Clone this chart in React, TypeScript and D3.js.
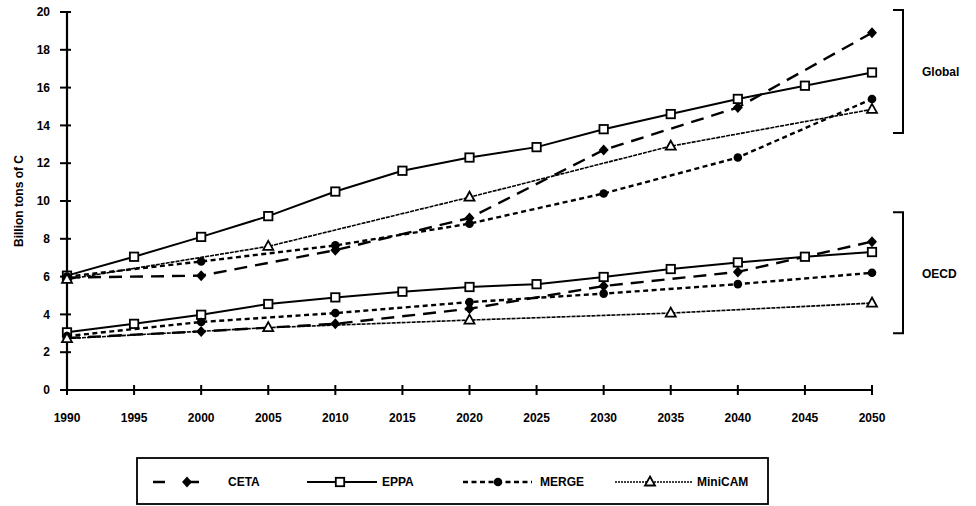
import React from "react";
import * as d3 from "d3";

// ---- data ----
const cetaYears = [1990, 2000, 2010, 2020, 2030, 2040, 2050];
const cetaGlobal = [5.95, 6.05, 7.4, 9.1, 12.7, 14.95, 18.9];
const cetaOECD = [2.75, 3.1, 3.5, 4.3, 5.5, 6.25, 7.85];

const eppaYears = [1990, 1995, 2000, 2005, 2010, 2015, 2020, 2025, 2030, 2035, 2040, 2045, 2050];
const eppaGlobal = [6.05, 7.05, 8.1, 9.2, 10.5, 11.6, 12.3, 12.85, 13.8, 14.6, 15.4, 16.1, 16.8];
const eppaOECD = [3.05, 3.5, 3.98, 4.55, 4.9, 5.2, 5.45, 5.6, 5.98, 6.4, 6.75, 7.05, 7.3];

const mergeYears = [1990, 2000, 2010, 2020, 2030, 2040, 2050];
const mergeGlobal = [6.0, 6.8, 7.65, 8.8, 10.4, 12.3, 15.4];
const mergeOECD = [2.85, 3.6, 4.07, 4.65, 5.1, 5.6, 6.2];

const minicamYears = [1990, 2005, 2020, 2035, 2050];
const minicamGlobal = [5.85, 7.6, 10.2, 12.9, 14.85];
const minicamOECD = [2.72, 3.3, 3.7, 4.07, 4.6];

const xTicks = [1990, 1995, 2000, 2005, 2010, 2015, 2020, 2025, 2030, 2035, 2040, 2045, 2050];
const yTicks = [0, 2, 4, 6, 8, 10, 12, 14, 16, 18, 20];
const seriesNames = ["CETA", "EPPA", "MERGE", "MiniCAM"];
const yLabel = "Billion tons of C";
const regionLabels = ["Global", "OECD"];

const FONT = "Liberation Sans, Arial, sans-serif";

type Kind = "diamond" | "square" | "circle" | "triangle";

const styles: Record<string, { dash: string; width: number; marker: Kind }> = {
  CETA: { dash: "13,8", width: 2.4, marker: "diamond" },
  EPPA: { dash: "", width: 2, marker: "square" },
  MERGE: { dash: "5,3.5", width: 2.4, marker: "circle" },
  MiniCAM: { dash: "4,1", width: 1.6, marker: "triangle" },
};

function Marker({ kind, x, y }: { kind: Kind; x: number; y: number }) {
  if (kind === "diamond")
    return <path d={`M${x},${y - 5.5}L${x + 5},${y}L${x},${y + 5.5}L${x - 5},${y}Z`} fill="#000" />;
  if (kind === "square")
    return <rect x={x - 4.2} y={y - 4.2} width={8.4} height={8.4} fill="#fff" stroke="#000" strokeWidth={1.8} />;
  if (kind === "circle") return <circle cx={x} cy={y} r={4.3} fill="#000" />;
  return (
    <path d={`M${x},${y - 5.5}L${x + 5},${y + 3.5}L${x - 5},${y + 3.5}Z`} fill="#fff" stroke="#000" strokeWidth={1.8} />
  );
}

export default function App() {
  const x = d3.scaleLinear().domain([1990, 2050]).range([67, 872]);
  const y = d3.scaleLinear().domain([0, 20]).range([390, 12]);

  const series = [
    { name: "CETA", years: cetaYears, vals: [cetaGlobal, cetaOECD] },
    { name: "EPPA", years: eppaYears, vals: [eppaGlobal, eppaOECD] },
    { name: "MERGE", years: mergeYears, vals: [mergeGlobal, mergeOECD] },
    { name: "MiniCAM", years: minicamYears, vals: [minicamGlobal, minicamOECD] },
  ];

  const line = d3
    .line<[number, number]>()
    .x((d) => x(d[0]))
    .y((d) => y(d[1]));

  // legend layout
  const legendItems = [
    { name: seriesNames[0], x0: 153, x1: 220, mx: 187, tx: 228 },
    { name: seriesNames[1], x0: 307, x1: 377, mx: 340, tx: 382 },
    { name: seriesNames[2], x0: 463, x1: 532, mx: 498, tx: 540 },
    { name: seriesNames[3], x0: 615, x1: 693, mx: 650, tx: 697 },
  ];
  const ly = 482;

  return (
    <svg width={976} height={506} style={{ position: "absolute", left: 0, top: 0, background: "#fff" }}>
      <rect width={976} height={506} fill="#fff" />
      {/* axes */}
      <line x1={x(1990)} x2={x(1990)} y1={y(20)} y2={y(0)} stroke="#000" strokeWidth={2.2} />
      <line x1={x(1990)} x2={x(2050)} y1={y(0)} y2={y(0)} stroke="#000" strokeWidth={2.2} />
      {yTicks.map((t) => (
        <g key={"y" + t}>
          <line x1={x(1990) - 7} x2={x(1990) + 4} y1={y(t)} y2={y(t)} stroke="#000" strokeWidth={2} />
          <text x={50} y={y(t)} dy="0.35em" textAnchor="end" fontFamily={FONT} fontWeight="bold" fontSize={12}>
            {t}
          </text>
        </g>
      ))}
      {xTicks.map((t) => (
        <g key={"x" + t}>
          <line x1={x(t)} x2={x(t)} y1={y(0) - 5} y2={y(0) + 5} stroke="#000" strokeWidth={2} />
          <text x={x(t)} y={418} dy="0.35em" textAnchor="middle" fontFamily={FONT} fontWeight="bold" fontSize={12}>
            {t}
          </text>
        </g>
      ))}
      <text
        transform={`translate(19,${y(10)}) rotate(-90)`}
        textAnchor="middle"
        dy="0.35em"
        fontFamily={FONT}
        fontWeight="bold"
        fontSize={12}
      >
        {yLabel}
      </text>

      {/* series */}
      {series.map((s) =>
        s.vals.map((vals, ri) => {
          const pts = s.years.map((yr, i) => [yr, vals[i]] as [number, number]);
          const st = styles[s.name];
          return (
            <g key={s.name + ri}>
              <path d={line(pts) || ""} fill="none" stroke="#000" strokeWidth={st.width} strokeDasharray={st.dash} />
              {pts.map((p, i) => (
                <Marker key={i} kind={st.marker} x={x(p[0])} y={y(p[1])} />
              ))}
            </g>
          );
        })
      )}

      {/* brackets */}
      {[
        { top: y(20) - 2, bot: y(13.6), label: regionLabels[0], ty: 72 },
        { top: y(9.4), bot: y(3.0), label: regionLabels[1], ty: 274 },
      ].map((b) => (
        <g key={b.label}>
          <path
            d={`M893,${b.top}L903,${b.top}L903,${b.bot}L893,${b.bot}`}
            fill="none"
            stroke="#000"
            strokeWidth={2}
          />
          <text x={922} y={b.ty} dy="0.35em" fontFamily={FONT} fontWeight="bold" fontSize={12}>
            {b.label}
          </text>
        </g>
      ))}

      {/* legend */}
      <rect x={137} y={458} width={631} height={46} fill="#fff" stroke="#000" strokeWidth={1.8} />
      {legendItems.map((it) => {
        const st = styles[it.name];
        return (
          <g key={it.name}>
            <line
              x1={it.x0}
              x2={it.x1}
              y1={ly}
              y2={ly}
              stroke="#000"
              strokeWidth={st.width}
              strokeDasharray={it.name === "CETA" ? "12,22" : it.name === "MiniCAM" ? "2,1" : st.dash}
            />
            <Marker kind={st.marker} x={it.mx} y={ly} />
            <text x={it.tx} y={ly} dy="0.35em" fontFamily={FONT} fontWeight="bold" fontSize={12}>
              {it.name}
            </text>
          </g>
        );
      })}
    </svg>
  );
}
